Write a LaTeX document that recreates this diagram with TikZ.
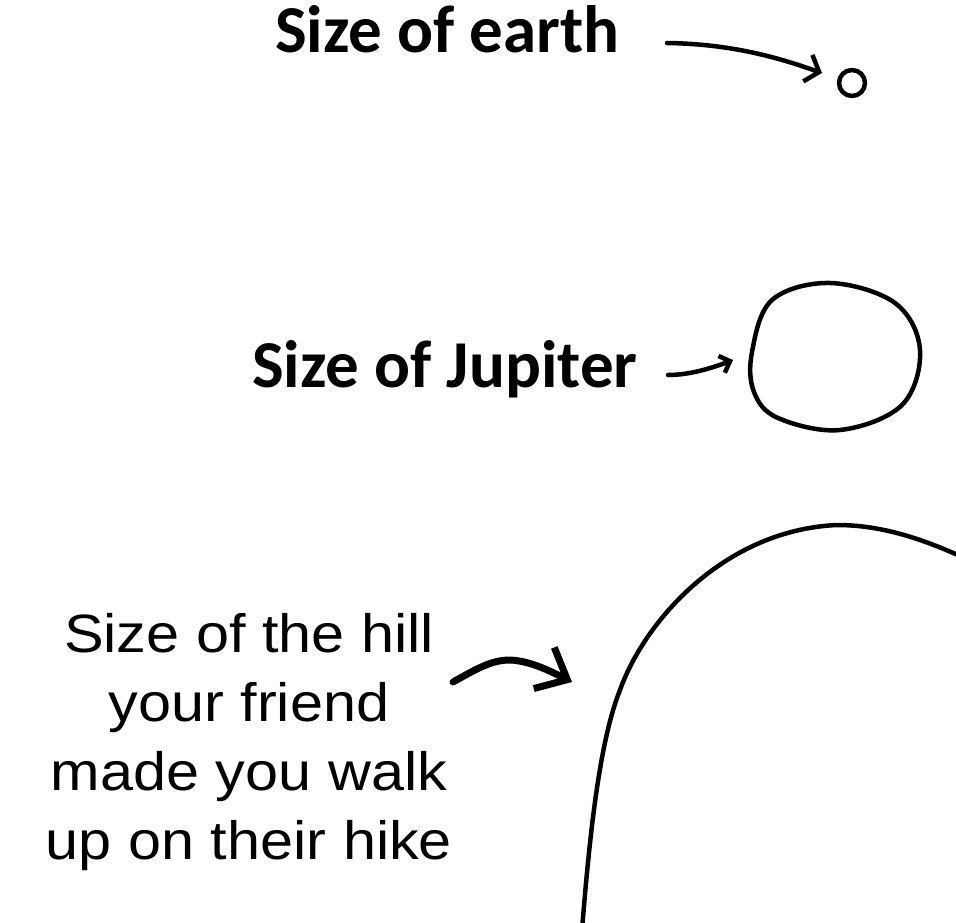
\documentclass[tikz,border=0pt]{standalone}
\usepackage{fontspec}
\usepackage{tikz}
\usetikzlibrary{arrows.meta}
\newfontfamily\calfont{Carlito}
\newfontfamily\hillfont[FakeStretch=1.1]{Liberation Sans}
\tikzset{lbl/.style = {inner sep = 0, anchor = base west, font = \calfont\bfseries\fontsize{67}{80}\selectfont}}
\tikzset{every picture/.style={
    x=1pt, y=-1pt,
    every path/.style={line width=4.5pt, line cap=round, line join=round},
}}

\begin{document}
\begin{tikzpicture}
      \useasboundingbox (0,0) rectangle (956,923);

      \node[lbl] (earthlbl) at (273,53) {Size of earth};
      \node[lbl] (jupiterlbl) at (250,387) {Size of Jupiter};
      \node[inner sep=0, anchor=base, align=center, font=\hillfont\fontsize{54}{69}\selectfont] (hilllbl) at (249,859)
        {Size of the hill\\your friend\\made you walk\\up on their hike};

      \node[draw, circle, inner sep=0, minimum size=26] (earth) at (852,83) {};
      \coordinate (earthtip) at (822,73);

      \draw plot[smooth cycle, tension=0.6] coordinates {(752,352) (772,300) (830,283) (895,303) (920,350) (902,405) (840,430) (778,418) (754,392)};
      \coordinate (jupiter) at (733,360);

      \draw (582,930) .. controls (590,830) and (600,740) .. (620,690)
        .. controls (645,620) and (725,530) .. (837,525)
        .. controls (880,525) and (920,538) .. (960,556);
      \coordinate (hill) at (572,682);

      \coordinate (earthtail) at (667,43);
      \coordinate (jupitertail) at (668,375);
      \coordinate (hilltail) at (453,682);

      \draw[-{Straight Barb[length=12,width=28]}] (earthtail) .. controls (740,44) and (790,62) .. (earthtip);
      \draw[-{Straight Barb[length=9,width=18]}] (jupitertail) .. controls (690,375) and (712,368) .. (jupiter);
      \draw[line width=7pt, -{Straight Barb[length=26,width=46]}] (hilltail) .. controls (478,668) and (492,660) .. (510,660)
        .. controls (530,661) and (548,670) .. (hill);
\end{tikzpicture}
\end{document}
